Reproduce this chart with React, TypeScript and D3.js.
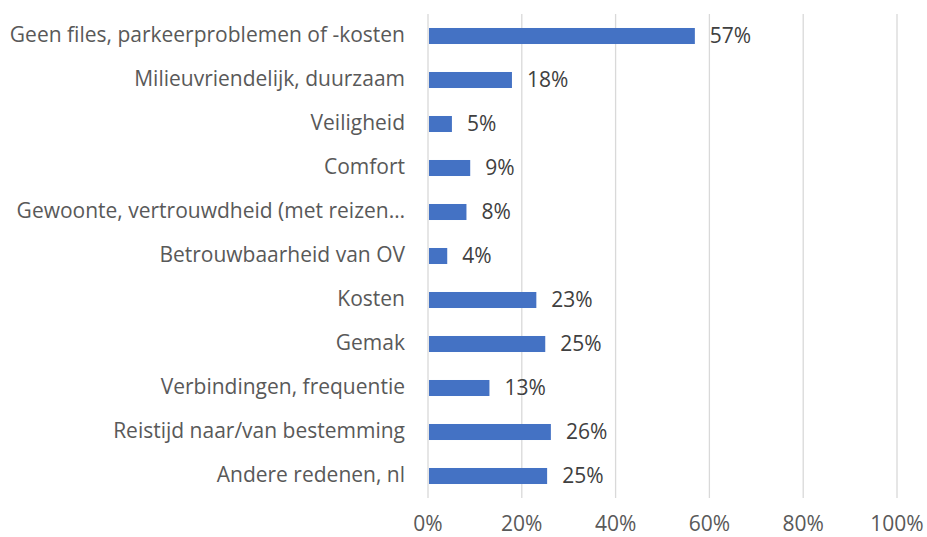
import * as d3 from 'd3';
import React from 'react';

// reasons for choosing public transport, share of respondents
const categories = [
  'Geen files, parkeerproblemen of -kosten',
  'Milieuvriendelijk, duurzaam',
  'Veiligheid',
  'Comfort',
  'Gewoonte, vertrouwdheid (met reizen…',
  'Betrouwbaarheid van OV',
  'Kosten',
  'Gemak',
  'Verbindingen, frequentie',
  'Reistijd naar/van bestemming',
  'Andere redenen, nl',
];
const values = [0.569, 0.179, 0.051, 0.09, 0.082, 0.041, 0.231, 0.25, 0.131, 0.262, 0.254];
const ticks = [0, 0.2, 0.4, 0.6, 0.8, 1];

const W = 927, H = 537;
const params = {
  left: 428,
  right: 897,
  top: 14,
  bottom: 498,
  font: '"Open Sans", sans-serif',
  fontSize: 21,
};

const App = () => {
  const x = d3.scaleLinear().domain([0, 1]).range([params.left, params.right]);
  const y = d3.scaleBand<string>()
    .domain(categories)
    .range([params.top, params.bottom])
    .paddingInner(0.636)
    .paddingOuter(0.318);
  const pct = d3.format('.0%');

  return (
    <svg width={W} height={H} style={{ position: 'absolute', left: 0, top: 0, background: '#fff' }}
      fontFamily={params.font}>
      <g>
        {ticks.map(t => (
          <line key={t} x1={x(t)} x2={x(t)} y1={params.top} y2={params.bottom}
            stroke="#d9d9d9" strokeWidth={1.3} />
        ))}
      </g>
      <g>
        {categories.map((c, i) => (
          <rect key={c} x={x(0) + 1} y={y(c)!} width={x(values[i]) - x(0) - 1}
            height={y.bandwidth()} fill="#4472C4" />
        ))}
      </g>
      <g fontSize={params.fontSize} fill="#404040">
        {categories.map((c, i) => (
          <text key={c} x={x(values[i]) + 15} y={y(c)! + y.bandwidth() / 2} dy="0.35em">
            {pct(values[i])}
          </text>
        ))}
      </g>
      <g fontSize={params.fontSize} fill="#595959" textAnchor="end">
        {categories.map(c => (
          <text key={c} x={405} y={y(c)! + y.bandwidth() / 2} dy="0.3em">{c}</text>
        ))}
      </g>
      <g fontSize={params.fontSize} fill="#595959" textAnchor="middle">
        {ticks.map(t => (
          <text key={t} x={x(t)} y={531}>{pct(t)}</text>
        ))}
      </g>
    </svg>
  );
};

export default App;
